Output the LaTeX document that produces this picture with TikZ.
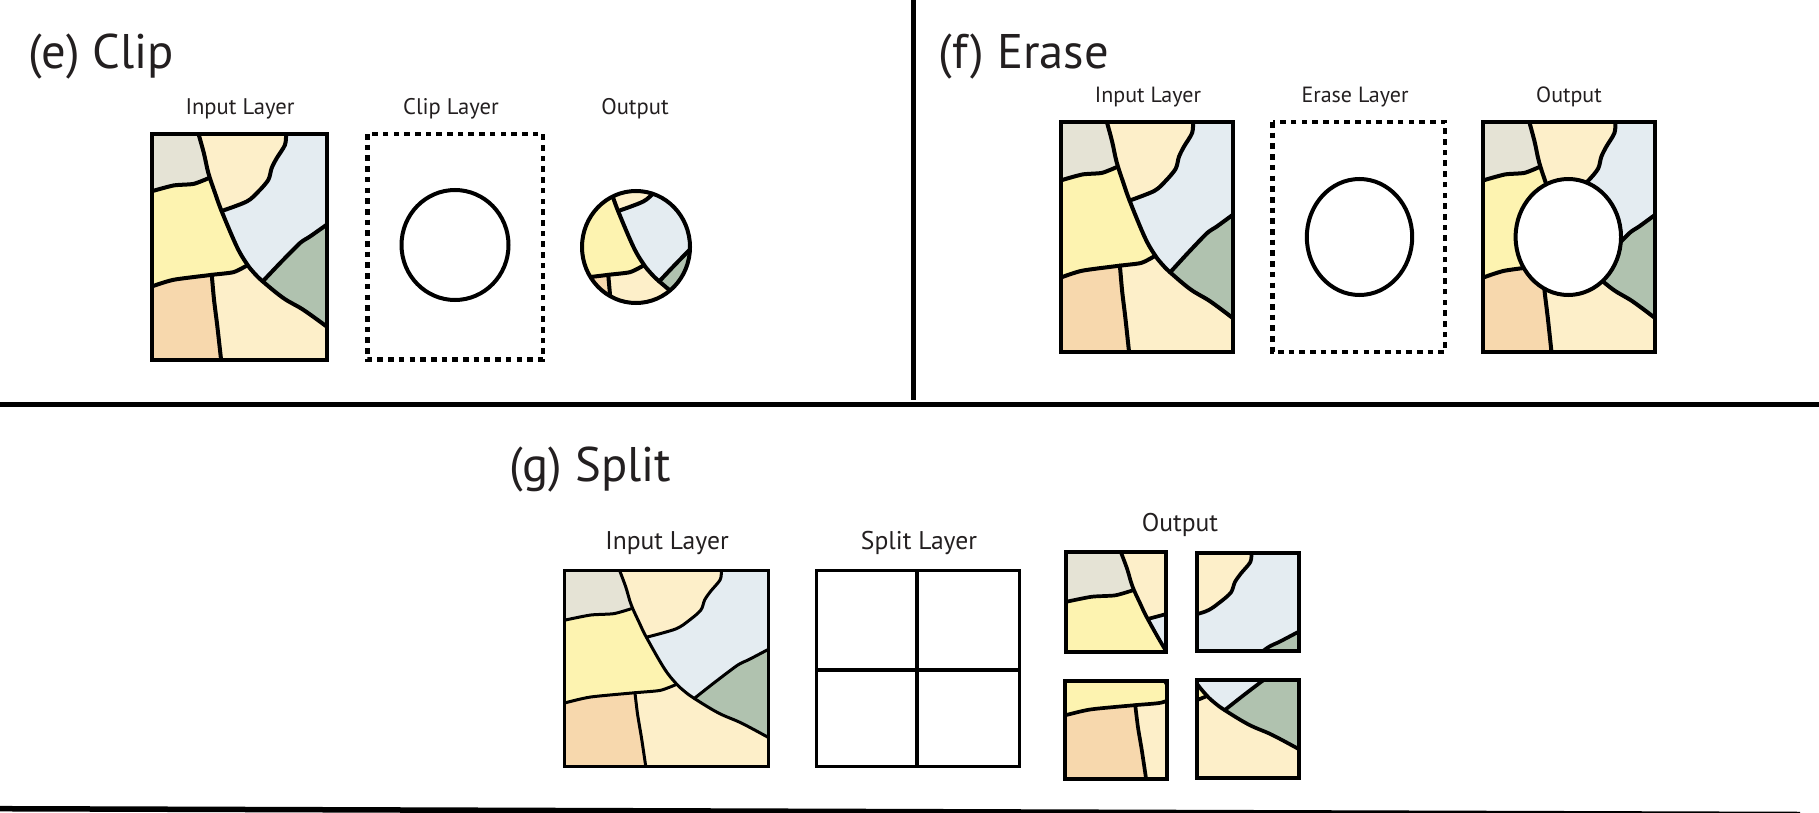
\documentclass[tikz,border=0pt]{standalone}
\usepackage{fontspec}
\setmainfont{PT Sans}
\usetikzlibrary{positioning}
\definecolor{ink}{HTML}{231F20}
\definecolor{mgrey}{HTML}{E5E3D5}
\definecolor{mcream}{HTML}{FDEFC9}
\definecolor{mblue}{HTML}{E4ECF1}
\definecolor{mgreen}{HTML}{B0C2AF}
\definecolor{myellow}{HTML}{FDF3B0}
\definecolor{mpeach}{HTML}{F7D8AD}
\tikzset{
  ttl/.style={anchor=base west,inner sep=0pt,text=ink,font=\fontsize{24.3}{30}\selectfont},
  lbl/.style={anchor=base,inner sep=0pt,text=ink,font=\fontsize{11}{13}\selectfont},
  lble/.style={lbl,font=\fontsize{11.3}{13}\selectfont},
  lblg/.style={lbl,font=\fontsize{12.8}{15}\selectfont},
  mapline/.style={draw=black,line join=round,line cap=round},
  frame/.style={draw=black,line width=2pt,line join=miter},
  gframe/.style={frame,line width=1.5pt},
  dashframe/.style={frame,line width=2.2pt,dash pattern=on 2.8pt off 2.55pt},
  hole/.style={draw=black,fill=white,line width=2pt},
  rule/.style={draw=black,line width=2.25pt},
}
\newcommand{\mapparts}[5]{%
  \begin{scope}[shift={(#1,#2+#4)},x=#3*0.005pt,y=#4*0.005pt]
    \fill[mgrey] (0,100) -- (26.8,100) -- (29.9,91.4) -- (32.5,81) -- (24,77.8) -- (12.6,77.1) -- (0,74.5) -- cycle;
    \fill[mcream] (26.8,100) -- (29.9,91.4) -- (32.5,82.5) -- (36.3,73.7) -- (40.1,65.7) -- (54.4,70) -- (61,74.4) -- (66.7,79.6) -- (68.6,84.8) -- (71.5,89.2) -- (76.2,95.1) -- (76.8,100) -- cycle;
    \fill[mblue] (76.8,100) -- (76.2,95.1) -- (71.5,89.2) -- (68.6,84.8) -- (66.7,79.6) -- (61,74.4) -- (54.4,70) -- (40.1,65.7) -- (48.7,50) -- (54.4,41.2) -- (63.5,34.6) -- (73.4,42.7) -- (84.8,51.6) -- (90.5,54.5) -- (100,59.7) -- (100,100) -- cycle;
    \fill[mgreen] (63.5,34.6) -- (75.3,27.2) -- (86.7,22) -- (100,14.6) -- (100,59.7) -- (90.5,54.5) -- (84.8,51.6) -- (73.4,42.7) -- cycle;
    \fill[myellow] (0,74.5) -- (12.6,77.1) -- (24,77.8) -- (32.5,80) -- (36.3,73.7) -- (40.1,65.7) -- (48.7,50) -- (54.4,41) -- (46.8,38.7) -- (34.4,37.5) -- (12.5,35.3) -- (0,32.3) -- cycle;
    \fill[mpeach] (0,32.3) -- (12.5,35.3) -- (34.4,37.5) -- (35.7,26.4) -- (37.6,14.6) -- (39.7,0) -- (0,0) -- cycle;
    \fill[mcream] (34.4,37.5) -- (46.8,38.7) -- (54.4,41) -- (63.5,34.6) -- (75.3,27.2) -- (86.7,22) -- (100,14.6) -- (100,0) -- (39.7,0) -- (37.6,14.6) -- (35.7,26.4) -- cycle;
    \draw[mapline,line width=#5] plot[smooth,tension=.6] coordinates {(26.8,100) (29.9,91.4) (32.5,82.5) (36.3,73.7) (40.1,65.6) (48.7,50) (54.4,42.4) (58.6,38.3) (63.5,34.6) (75.3,27.2) (86.7,22) (100,14.6)};
    \draw[mapline,line width=#5] plot[smooth,tension=.4] coordinates {(0,74.5) (12.6,77.1) (24,77.8) (32.5,80.3)};
    \draw[mapline,line width=#5] plot[smooth,tension=.4] coordinates {(0,32.3) (12.5,35.3) (34.4,37.5) (46.8,38.7) (54.4,41.6)};
    \draw[mapline,line width=#5] plot[smooth,tension=.4] coordinates {(34.4,37.5) (35.7,26.4) (37.6,14.6) (39.7,0)};
    \draw[mapline,line width=#5] plot[smooth,tension=.5] coordinates {(76.8,100) (76.2,95.1) (71.5,89.2) (68.6,84.8) (66.7,79.6) (61,74.4) (54.4,70) (40.1,65.8)};
    \draw[mapline,line width=#5] plot[smooth,tension=.4] coordinates {(63.5,34.6) (73.4,42.7) (84.8,51.6) (90.5,54.5) (100,59.7)};
  \end{scope}}
\newcommand{\inputmap}[6]{%
  \begin{scope}
    \clip (#1,#2) rectangle (#1+#3,#2+#4);
    \mapparts{#1}{#2}{#3}{#4}{#5}
  \end{scope}
  \draw[#6] (#1,#2) rectangle (#1+#3,#2+#4);}
\newcommand{\splitmap}[6]{%
  \begin{scope}
    \clip (#1,#2) rectangle (#3,#4);
    \mapparts{#5}{#6}{204}{196}{1.85pt}
  \end{scope}
  \draw[frame] (#1,#2) rectangle (#3,#4);}
\begin{document}
\begin{tikzpicture}[x=0.5pt,y=-0.5pt]
\useasboundingbox (0,0) rectangle (1819,813);
\draw[rule] (913.3,0) coordinate (vtop) -- (913.3,400) coordinate (vbot);
\draw[rule] (0,404.3) coordinate (hleft) -- (1819,404.3) coordinate (hright);
\begin{scope}
  \clip (0,0) rectangle (1819,813);
  \draw[black,line width=2.75pt] (0,808.7) coordinate (bleft) -- (1800,814.5) coordinate (bright);
\end{scope}

\node[ttl] (ttle) at (28,69) {(e) Clip};
\node[lble] (ine) at (240,114) {Input Layer};
\node[lble] (clipe) at (451,114) {Clip Layer};
\node[lble] (oute) at (635,114) {Output};
\inputmap{151.5}{134}{175}{225.5}{2pt}{frame}
\draw[dashframe] (367.5,134) rectangle (543,359.5);
\draw[hole] (455,245) ellipse [x radius=53.5,y radius=55];
\begin{scope}
  \clip (636,247) ellipse [x radius=54,y radius=56];
  \mapparts{548}{134}{175}{225.5}{2pt}
\end{scope}
\draw[frame] (636,247) ellipse [x radius=54,y radius=56];

\node[ttl] (ttlf) at (938,69) {(f) Erase};
\node[lbl] (inf) at (1148,103) {Input Layer};
\node[lbl] (erf) at (1355,103) {Erase Layer};
\node[lbl] (outf) at (1569,103) {Output};
\inputmap{1060.5}{122}{172.5}{230}{2pt}{frame}
\draw[dashframe] (1272.5,122) rectangle (1445,352);
\draw[hole] (1359.5,237) ellipse [x radius=52.7,y radius=58];
\inputmap{1483}{122}{172.3}{230}{2pt}{frame}
\draw[hole] (1568.3,237) ellipse [x radius=52.7,y radius=58];

\node[ttl] (ttlg) at (509,481) {(g) Split};
\node[lblg] (ing) at (667,549) {Input Layer};
\node[lblg] (spg) at (919,549) {Split Layer};
\node[lblg] (outg) at (1180,531) {Output};
\inputmap{564.8}{570.3}{203.7}{196}{1.5pt}{gframe}
\draw[gframe] (816,570.3) rectangle (1019,766.3);
\draw[frame] (916.7,570.3) -- (916.7,766.3);
\draw[frame] (816,670) -- (1019,670);
\splitmap{1066}{552}{1166}{652}{1066}{552}
\splitmap{1196.7}{552.7}{1298.7}{651.3}{1094.7}{552.7}
\splitmap{1065}{680.7}{1166.7}{778.7}{1065}{582.7}
\splitmap{1197}{680}{1298.7}{778}{1095}{582}
\end{tikzpicture}
\end{document}
